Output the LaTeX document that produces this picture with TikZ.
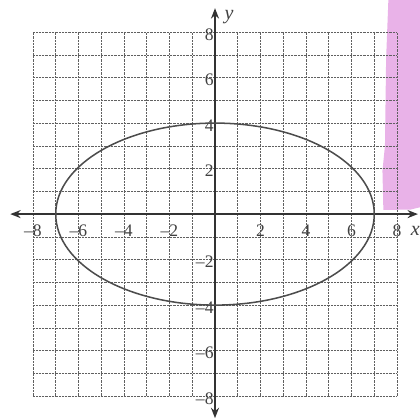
\documentclass[tikz,border=0pt]{standalone}
\usepackage{amsmath, amssymb}
\usepackage{xcolor}
\usepackage{fontspec}
\setmainfont{Liberation Serif}
\usetikzlibrary{arrows.meta}

\definecolor{highlighter}{RGB}{233,178,232}
\newcommand{\mns}{{\char"2013}}
\tikzset{
    gridline/.style={gray!75!black, line width=0.7pt, dash pattern=on 0.9pt off 0.9pt},
    axisline/.style={line width=2pt, black!80, -{Stealth[length=13pt,width=10pt]}},
    ticklabel/.style={font=\fontsize{22}{26}\selectfont, text=black!75, inner sep=1pt}
}

\begin{document}
\begin{tikzpicture}
    \useasboundingbox (-9.45,-9.05) rectangle (9.01,9.41);
    % highlighter stroke on the right
    \fill[highlighter] (7.62,9.41) -- (9.01,9.41) -- (9.01,0.3) -- (8.6,0.2) -- (7.4,0.18)
        -- (7.36,1.9) -- (7.47,3.0) -- (7.52,6.8) -- cycle;
    \draw[gridline] (-8,-8) grid (8,8);
    \coordinate (xl) at (-9.0,0);
    \coordinate (xr) at (8.92,0);
    \coordinate (yb) at (0,-8.97);
    \coordinate (yt) at (0,9.05);
    \draw[axisline] (0,0) -- (xr);
    \draw[axisline] (0,0) -- (xl);
    \draw[axisline] (0,0) -- (yt);
    \draw[axisline] (0,0) -- (yb);
    \node[ticklabel, font=\fontsize{25}{29}\selectfont\itshape] (xlab) at (8.8,-0.75) {x};
    \node[ticklabel, font=\fontsize{25}{29}\selectfont\itshape] (ylab) at (0.62,8.65) {y};
    \foreach \k in {2,4,6,8} {
        \node[ticklabel] (xpos\k) at (\k,-0.72) {\k};
        \node[ticklabel] (xneg\k) at (-\k,-0.72) {\mns\k};
        \node[ticklabel, anchor=east] (ypos\k) at (-0.02,\k-0.1) {\k};
        \node[ticklabel, anchor=east] (yneg\k) at (-0.02,-\k-0.1) {\mns\k};
    }
    \draw[line width=1.9pt, black!70] (0,0) ellipse (7 and 4);
\end{tikzpicture}
\end{document}
